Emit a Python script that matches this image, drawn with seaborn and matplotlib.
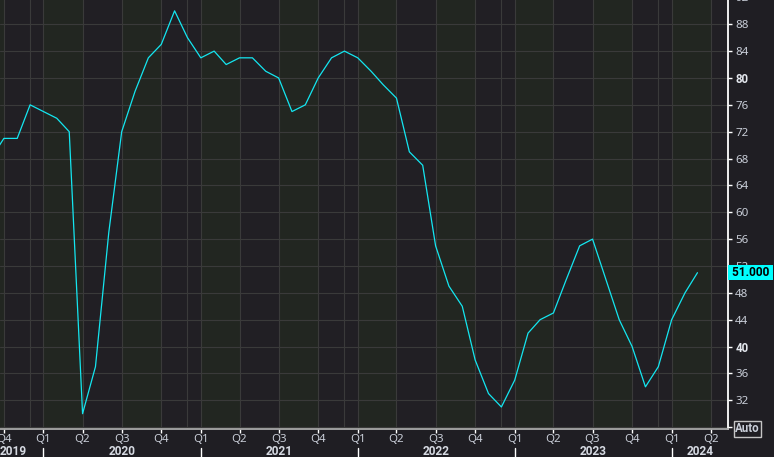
import numpy as np
import pandas as pd
import matplotlib
matplotlib.use('Agg')
import matplotlib.pyplot as plt
import matplotlib.dates as mdates
import matplotlib.transforms as mtransforms
import seaborn as sns

# ---------------- data ----------------
months = pd.date_range('2019-09-01', '2024-03-01', freq='MS')
values = [68, 71, 71, 76,
          75, 74, 72, 30, 37, 57, 72, 78, 83, 85, 90, 86,
          83, 84, 82, 83, 83, 81, 80, 75, 76, 80, 83, 84,
          83, 81, 79, 77, 69, 67, 55, 49, 46, 38, 33, 31,
          35, 42, 44, 45, 50, 55, 56, 50, 44, 40, 34, 37,
          44, 48, 51]
quarter_ticks = pd.date_range('2019-10-01', '2024-04-01', freq='QS')
quarter_labels = [f"Q{d.quarter}" for d in quarter_ticks]
years = [2019, 2020, 2021, 2022, 2023, 2024]
y_ticks = list(range(28, 93, 4))
y_labels = ['Auto'] + [str(v) for v in y_ticks[1:]]
bold_ticks = [40, 80]
x_start, x_end = pd.Timestamp('2019-09-22'), pd.Timestamp('2024-05-11')
y_min, y_max = 27.72, 92.0

# ---------------- style ----------------
FIG_BG = '#1f1e23'
DARK_BAND = '#211f24'
GREEN_BAND = '#222621'
GRID = '#3a3a3a'
LINE = '#14e6f0'
TXT = '#c9ced8'
BOLD_FAMILY = ['Roboto', 'DejaVu Sans']

sns.set_theme(style='dark')
plt.rcParams['font.family'] = ['Noto Sans', 'DejaVu Sans']

W, H = 774, 457
fig = plt.figure(figsize=(W / 100, H / 100), dpi=100, facecolor=FIG_BG)
ax = fig.add_axes([0, 28 / H, 728 / W, (429 + 2.6) / H])
ax.set_facecolor(DARK_BAND)

# quarter bands
band_starts = pd.date_range('2019-07-01', '2024-07-01', freq='QS')
for s, e in zip(band_starts[:-1], band_starts[1:]):
    ax.axvspan(s, e, color=GREEN_BAND if s.quarter in (1, 3) else DARK_BAND,
               lw=0, zorder=0)

df = pd.DataFrame({'date': months, 'value': values})
sns.lineplot(data=df, x='date', y='value', ax=ax, color=LINE, linewidth=0.9,
             zorder=5)

ax.set_xlim(x_start, x_end)
ax.set_ylim(y_min, y_max)
ax.set_xlabel('')
ax.set_ylabel('')

# y axis on right
ax.yaxis.tick_right()
ax.set_yticks(y_ticks)
ax.set_yticklabels(y_labels)
ax.tick_params(axis='y', colors='white', length=3.2, width=1, pad=2,
               labelsize=8.3, labelcolor=TXT, right=True, left=False)
for lab, v in zip(ax.get_yticklabels(), y_ticks):
    if v in bold_ticks:
        lab.set_family(BOLD_FAMILY)
        lab.set_fontweight('bold')
        lab.set_color('#e4e8ee')
    if lab.get_text() == 'Auto':
        lab.set_family(BOLD_FAMILY)
        lab.set_fontweight('bold')
        lab.set_bbox(dict(boxstyle='square,pad=0.12', fc='none',
                          ec='#c4c4c4', lw=1))

# x axis quarters
ax.set_xticks(quarter_ticks)
ax.set_xticklabels(quarter_labels)
ax.tick_params(axis='x', colors='white', length=2.8, width=1, pad=1,
               labelsize=8.3, labelcolor=TXT, bottom=True)

# grid
ax.grid(True, axis='both', color=GRID, lw=0.8, zorder=1)
for y in years[:-1]:
    ax.axvline(pd.Timestamp(f'{y}-12-01'), color=GRID, lw=0.8, zorder=1)

# spines
for sp in ['left', 'top']:
    ax.spines[sp].set_visible(False)
ax.spines['right'].set_color('white')
ax.spines['right'].set_linewidth(1.3)
ax.spines['bottom'].set_color('#a8a8a8')
ax.spines['bottom'].set_linewidth(1.3)

# year labels and separators
blend = mtransforms.blended_transform_factory(ax.transData, ax.transAxes)
x0n, x1n = mdates.date2num(x_start), mdates.date2num(x_end)
for i, yr in enumerate(years):
    a = max(mdates.date2num(pd.Timestamp(f'{yr}-01-01')), x0n)
    b = min(mdates.date2num(pd.Timestamp(f'{yr + 1}-01-01')), x1n)
    kw = dict(va='center', fontsize=8.6, fontweight='bold', color='#d6dae2',
              family=BOLD_FAMILY)
    if i == 0:
        ax.text(0.0, -0.0525, str(yr), transform=ax.transAxes, ha='left', **kw)
    else:
        ax.text((a + b) / 2, -0.0525, str(yr), transform=blend, ha='center', **kw)
        ax.plot([a, a], [-0.043, -0.07], transform=blend, color='white',
                lw=1, clip_on=False)

# last value label
ax.text(1.001, values[-1], f" {values[-1]:.3f} ",
        transform=mtransforms.blended_transform_factory(ax.transAxes, ax.transData),
        ha='left', va='center', fontsize=8.6, fontweight='bold', color='black',
        family=BOLD_FAMILY,
        bbox=dict(boxstyle='square,pad=0.08', fc='#00ffff', ec='none'),
        zorder=10, clip_on=False)

fig.savefig('out.png', dpi=100, facecolor=FIG_BG)
